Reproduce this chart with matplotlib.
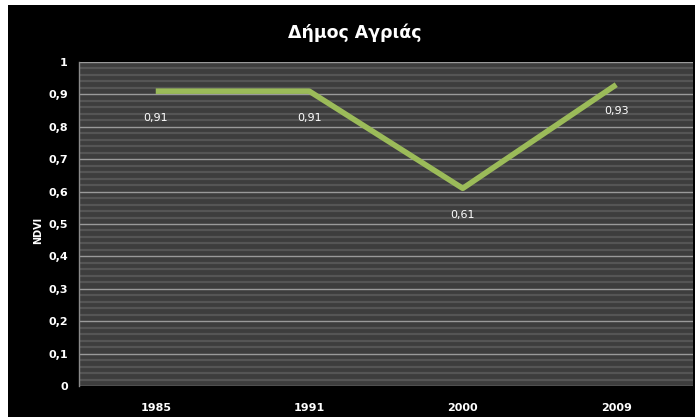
import matplotlib
matplotlib.use("Agg")
import matplotlib.pyplot as plt
from matplotlib.patches import Rectangle
import numpy as np

years = ["1985", "1991", "2000", "2009"]
ndvi = [0.91, 0.91, 0.61, 0.93]
value_labels = ["0,91", "0,91", "0,61", "0,93"]
yticks = [0, 0.1, 0.2, 0.3, 0.4, 0.5, 0.6, 0.7, 0.8, 0.9, 1.0]
ytick_labels = ["0", "0,1", "0,2", "0,3", "0,4", "0,5", "0,6", "0,7", "0,8", "0,9", "1"]
title = "Δήμος Αγριάς"
ylabel = "NDVI"

W, H = 695, 417
fig = plt.figure(figsize=(W / 100, H / 100), dpi=100)
fig.patch.set_facecolor("white")
fig.add_artist(Rectangle((8 / W, 0), 1 - 8 / W, 1 - 5 / H, transform=fig.transFigure,
                         facecolor="black", edgecolor="none", zorder=0))

ax = fig.add_axes([79 / W, 1 - 386 / H, (693 - 79) / W, (386 - 62) / H])
ax.set_facecolor("#3d3d3d")
x = np.arange(len(years))
ax.set_xlim(-0.5, len(years) - 0.5)
ax.set_ylim(0, 1)

# minor stripes
ax.set_yticks(np.arange(0, 1.0001, 0.02), minor=True)
ax.grid(which="minor", axis="y", color="#555555", linewidth=1.6)
ax.grid(which="major", axis="y", color="#9a9a9a", linewidth=1.0)
ax.set_axisbelow(True)

ax.plot(x, ndvi, color="#9bbb59", linewidth=4, solid_capstyle="butt", zorder=3)
for xi, v, lab in zip(x, ndvi, value_labels):
    ax.annotate(lab, (xi, v), xytext=(0, -19), textcoords="offset points",
                ha="center", va="center", color="white", fontsize=8, zorder=4)

ax.set_xticks(x)
ax.set_xticklabels(years, color="white", fontsize=8, fontweight="bold")
ax.set_yticks(yticks)
ax.set_yticklabels(ytick_labels, color="white", fontsize=8, fontweight="bold")
ax.tick_params(axis="y", which="both", length=0, pad=8)
ax.tick_params(axis="x", which="both", length=0, pad=12)
for s in ["top", "right", "bottom"]:
    ax.spines[s].set_visible(False)
ax.spines["left"].set_color("#8a8a8a")
ax.spines["left"].set_linewidth(1)

fig.text(355 / W, 1 - 33 / H, title, ha="center", va="center", color="white",
         fontsize=12.5, fontweight="bold")
fig.text(38 / W, 1 - 230 / H, ylabel, ha="center", va="center", color="white",
         fontsize=7, fontweight="bold", rotation=90)

fig.savefig("out.png", dpi=100, facecolor=fig.get_facecolor())
